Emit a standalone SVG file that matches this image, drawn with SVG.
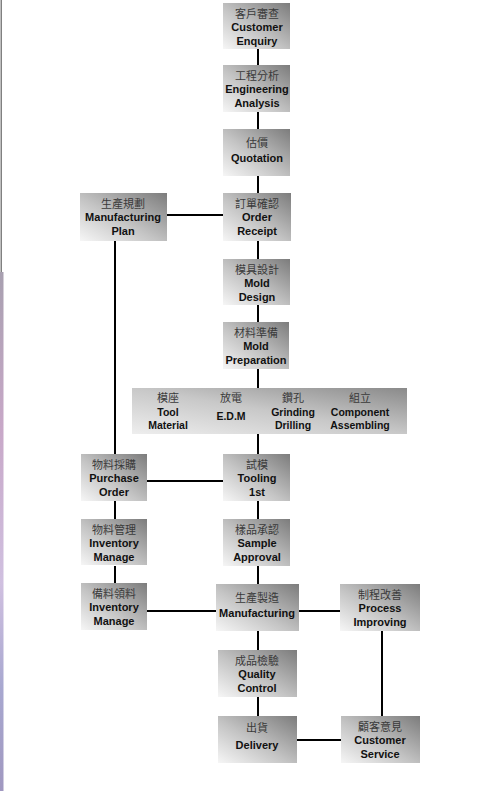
<svg xmlns="http://www.w3.org/2000/svg" width="497" height="791" viewBox="0 0 497 791">
<defs>
<linearGradient id="g" x1="0" y1="1" x2="1" y2="0">
<stop offset="0" stop-color="#f6f6f6"/>
<stop offset="0.45" stop-color="#c4c4c4"/>
<stop offset="1" stop-color="#7c7c7c"/>
</linearGradient>
<linearGradient id="gw" x1="0" y1="1" x2="1" y2="0">
<stop offset="0" stop-color="#eeeeee"/>
<stop offset="0.5" stop-color="#c8c8c8"/>
<stop offset="1" stop-color="#8a8a8a"/>
</linearGradient>
<linearGradient id="band" x1="0" y1="0" x2="0" y2="1">
<stop offset="0" stop-color="#a8a0b0"/>
<stop offset="0.3" stop-color="#c8a8c8"/>
<stop offset="0.6" stop-color="#d0c0e0"/>
<stop offset="0.8" stop-color="#a8a8d0"/>
<stop offset="1" stop-color="#a098c0"/>
</linearGradient>
</defs>
<style>
.box{fill:url(#g);}
.zh{font-family:"Noto Sans CJK TC","Noto Sans CJK SC",sans-serif;font-size:11px;fill:#3a3a3a;text-anchor:middle;}
.en{font-family:"Liberation Sans",Arial,sans-serif;font-size:11px;font-weight:bold;fill:#111;text-anchor:middle;}
.en2{font-family:"Liberation Sans",Arial,sans-serif;font-size:10.5px;font-weight:bold;fill:#111;text-anchor:middle;}
.ln{stroke:#000;stroke-width:2;fill:none;}
</style>
<rect x="0" y="0" width="497" height="791" fill="#ffffff"/>
<rect x="0.5" y="0" width="1.5" height="272" fill="#808080"/>
<rect x="0" y="272" width="3.5" height="519" fill="url(#band)"/>

<g id="connectors">
<path class="ln" d="M258 48V65 M258 112V129 M258 176V193 M258 241V259 M258 305V322 M258 369V388 M258 434V454 M258 501V519 M258 566V584 M258 631V650 M258 697V716"/>
<path class="ln" d="M167 215H223 M115 241V454 M115 501V519 M115 566V583 M147 481H223 M147 611H216 M299 611H340 M382 631V716 M297 740H341"/>
</g>

<g id="customer-enquiry"><rect class="box" x="223" y="3" width="67" height="46"/>
<text class="zh" x="257" y="18">客戶審查</text><text class="en" x="257" y="31">Customer</text><text class="en" x="257" y="45">Enquiry</text></g>

<g id="engineering-analysis"><rect class="box" x="223" y="65" width="67" height="47"/>
<text class="zh" x="257" y="80">工程分析</text><text class="en" x="257" y="93">Engineering</text><text class="en" x="257" y="107">Analysis</text></g>

<g id="quotation"><rect class="box" x="223" y="129" width="67" height="47"/>
<text class="zh" x="257" y="147">估價</text><text class="en" x="257" y="162">Quotation</text></g>

<g id="order-receipt"><rect class="box" x="223" y="193" width="68" height="48"/>
<text class="zh" x="257" y="208">訂單確認</text><text class="en" x="257" y="221">Order</text><text class="en" x="257" y="235">Receipt</text></g>

<g id="manufacturing-plan"><rect class="box" x="80" y="193" width="87" height="48"/>
<text class="zh" x="123" y="208">生產規劃</text><text class="en" x="123" y="221">Manufacturing</text><text class="en" x="123" y="235">Plan</text></g>

<g id="mold-design"><rect class="box" x="223" y="259" width="67" height="46"/>
<text class="zh" x="257" y="274">模具設計</text><text class="en" x="257" y="287">Mold</text><text class="en" x="257" y="301">Design</text></g>

<g id="mold-preparation"><rect class="box" x="223" y="322" width="66" height="47"/>
<text class="zh" x="256" y="337">材料準備</text><text class="en" x="256" y="350">Mold</text><text class="en" x="256" y="364">Preparation</text></g>

<g id="machining"><rect x="132" y="388" width="275" height="46" fill="url(#gw)"/>
<text class="zh" x="168" y="402">模座</text><text class="en2" x="168" y="416">Tool</text><text class="en2" x="168" y="429">Material</text>
<text class="zh" x="231" y="402">放電</text><text class="en2" x="231" y="420">E.D.M</text>
<text class="zh" x="293" y="402">鑽孔</text><text class="en2" x="293" y="416">Grinding</text><text class="en2" x="293" y="429">Drilling</text>
<text class="zh" x="360" y="402">組立</text><text class="en2" x="360" y="416">Component</text><text class="en2" x="360" y="429">Assembling</text></g>

<g id="purchase-order"><rect class="box" x="81" y="454" width="66" height="47"/>
<text class="zh" x="114" y="469">物料採購</text><text class="en" x="114" y="482">Purchase</text><text class="en" x="114" y="496">Order</text></g>

<g id="tooling"><rect class="box" x="223" y="454" width="67" height="47"/>
<text class="zh" x="257" y="469">試模</text><text class="en" x="257" y="482">Tooling</text><text class="en" x="257" y="496">1st</text></g>

<g id="inventory-manage-1"><rect class="box" x="81" y="519" width="66" height="46"/>
<text class="zh" x="114" y="534">物料管理</text><text class="en" x="114" y="547">Inventory</text><text class="en" x="114" y="561">Manage</text></g>

<g id="sample-approval"><rect class="box" x="223" y="519" width="67" height="47"/>
<text class="zh" x="257" y="534">樣品承認</text><text class="en" x="257" y="547">Sample</text><text class="en" x="257" y="561">Approval</text></g>

<g id="inventory-manage-2"><rect class="box" x="81" y="583" width="66" height="47"/>
<text class="zh" x="114" y="598">備料領料</text><text class="en" x="114" y="611">Inventory</text><text class="en" x="114" y="625">Manage</text></g>

<g id="manufacturing"><rect class="box" x="216" y="584" width="83" height="47"/>
<text class="zh" x="257" y="602">生產製造</text><text class="en" x="257" y="617">Manufacturing</text></g>

<g id="process-improving"><rect class="box" x="340" y="584" width="80" height="47"/>
<text class="zh" x="380" y="599">制程改善</text><text class="en" x="380" y="612">Process</text><text class="en" x="380" y="626">Improving</text></g>

<g id="quality-control"><rect class="box" x="218" y="650" width="79" height="47"/>
<text class="zh" x="257" y="665">成品檢驗</text><text class="en" x="257" y="678">Quality</text><text class="en" x="257" y="692">Control</text></g>

<g id="delivery"><rect class="box" x="218" y="716" width="79" height="47"/>
<text class="zh" x="257" y="732">出貨</text><text class="en" x="257" y="749">Delivery</text></g>

<g id="customer-service"><rect class="box" x="341" y="716" width="79" height="47"/>
<text class="zh" x="380" y="731">顧客意見</text><text class="en" x="380" y="744">Customer</text><text class="en" x="380" y="758">Service</text></g>
</svg>
